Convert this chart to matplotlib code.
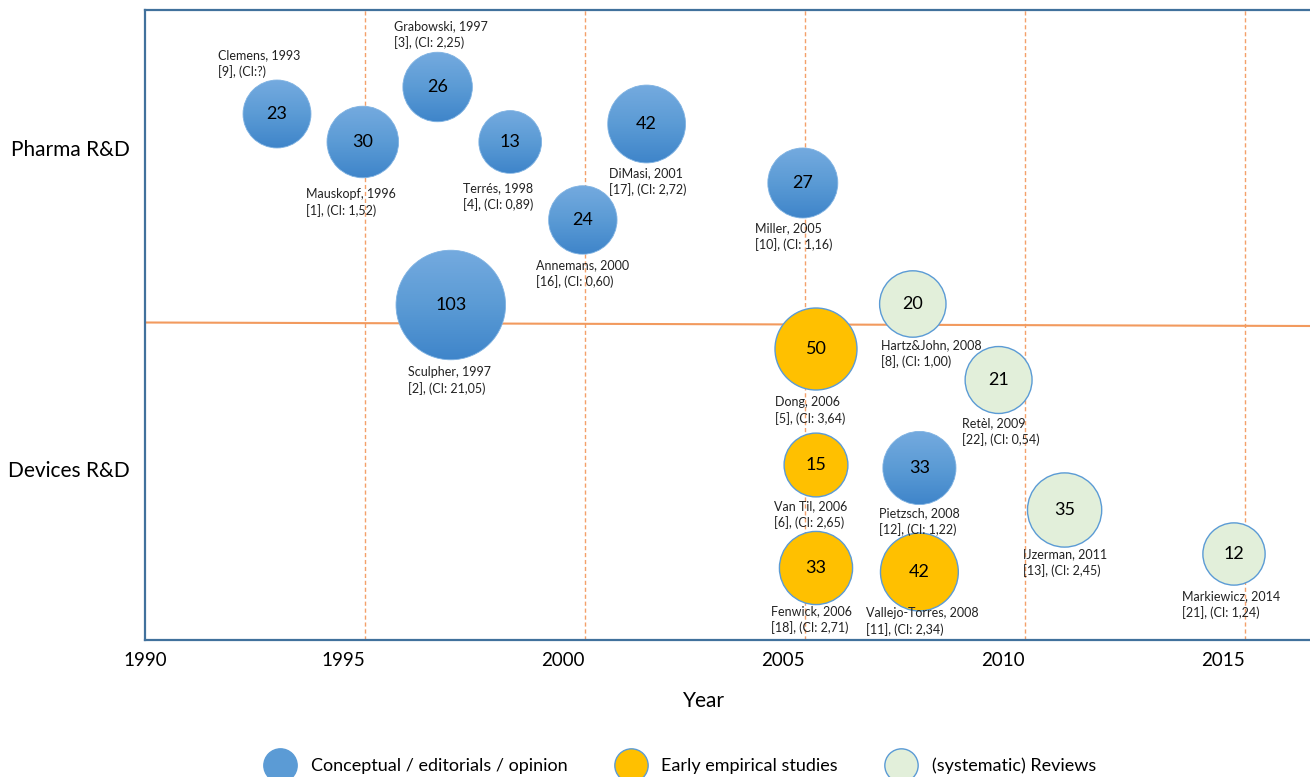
# bubble timeline of HTA / early health economics studies
# pharma vs devices R&D, bubble number = count, colour = study type

import numpy as np
import matplotlib.pyplot as plt
import matplotlib.transforms as mtransforms
from matplotlib.patches import Ellipse
from matplotlib.lines import Line2D
from matplotlib.colors import LinearSegmentedColormap

plt.rcParams['font.family'] = ['Lato', 'DejaVu Sans']

authors = ['Clemens', 'Mauskopf', 'Grabowski', 'Terrés', 'Annemans', 'Sculpher',
           'DiMasi', 'Miller', 'Hartz&John', 'Dong', 'Retèl', 'Van Til',
           'Pietzsch', 'IJzerman', 'Markiewicz', 'Fenwick', 'Vallejo-Torres']
years = [1993, 1996, 1997, 1998, 2000, 1997, 2001, 2005, 2008, 2006, 2009, 2006,
         2008, 2011, 2014, 2006, 2008]
refs = [9, 1, 3, 4, 16, 2, 17, 10, 8, 5, 22, 6, 12, 13, 21, 18, 11]
ci = ['?', '1,52', '2,25', '0,89', '0,60', '21,05', '2,72', '1,16', '1,00', '3,64',
      '0,54', '2,65', '1,22', '2,45', '1,24', '2,71', '2,34']
values = [23, 30, 26, 13, 24, 103, 42, 27, 20, 50, 21, 15, 33, 35, 12, 33, 42]
# c = conceptual, e = early empirical, r = reviews
kinds = ['c', 'c', 'c', 'c', 'c', 'c', 'c', 'c', 'r', 'e', 'r', 'e', 'c', 'r', 'r', 'e', 'e']
# where the bubbles sit on the timeline / row scale
x_pos = [1993.0, 1994.95, 1996.65, 1998.3, 1999.95, 1996.95, 2001.4, 2004.95, 2007.45,
         2005.25, 2009.4, 2005.25, 2007.6, 2010.9, 2014.75, 2005.25, 2007.6]
y_pos = [52.6, 49.8, 55.3, 49.8, 42.0, 33.5, 51.6, 45.7, 33.6, 29.1, 26.0, 17.5,
         17.2, 13.0, 8.6, 7.2, 6.8]

rows = ['Pharma R&D', 'Devices R&D']
row_y = [49.2, 17.1]
xticks = [1990, 1995, 2000, 2005, 2010, 2015]
kind_names = {'c': 'Conceptual / editorials / opinion',
              'e': 'Early empirical studies',
              'r': '(systematic) Reviews'}

# label placement (pixels from bubble centre to top-left of the text)
label_off = [(-59, -65), (-57, 46), (-44, -67), (-47, 40), (-47, 39), (-43, 61),
             (-38, 43), (-48, 39), (-32, 35), (-41, 47), (-37, 37), (-42, 35),
             (-40, 39), (-42, 38), (-52, 36), (-45, 37), (-53, 35)]

fig = plt.figure(figsize=(13.1, 7.77), dpi=100)
ax = fig.add_axes([145/1310, 137/777, 1165/1310, 630/777])
x0, x1 = 1990, 1990 + 1165/44.0
y0, y1 = 0, 63
px_x = 1165 / (x1 - x0)
px_y = 630 / (y1 - y0)

blue_cmap = LinearSegmentedColormap.from_list('bub', ['#74aadf', '#5b9bd5', '#3f85ca'])
grad = np.linspace(0, 1, 64).reshape(-1, 1)
fills = {'e': '#ffc000', 'r': '#e2efda'}

for i in range(len(authors)):
    x, y, v, k = x_pos[i], y_pos[i], values[i], kinds[i]
    r = 28 + 0.26 * v   # radius in px
    w, h = 2 * r / px_x, 2 * r / px_y
    if k == 'c':
        e = Ellipse((x, y), w, h, fc='none', ec='#7fb2e2', lw=0.6, zorder=3)
        ax.add_patch(e)
        im = ax.imshow(grad, cmap=blue_cmap, extent=[x - w/2, x + w/2, y - h/2, y + h/2],
                       origin='upper', aspect='auto', zorder=2.9, interpolation='bilinear')
        im.set_clip_path(e)
    else:
        e = Ellipse((x, y), w, h, fc=fills[k], ec='#5b9bd5', lw=1.0, zorder=3)
        ax.add_patch(e)
    ax.text(x, y, str(v), ha='center', va='center', fontsize=13, color='black', zorder=4)
    cit = 'CI:?' if ci[i] == '?' else 'CI: ' + ci[i]
    lbl = '%s, %d\n[%d], (%s)' % (authors[i], years[i], refs[i], cit)
    dx, dy = label_off[i]
    ax.annotate(lbl, (x, y), xytext=(dx, -dy), textcoords='offset pixels',
                ha='left', va='top', fontsize=9, color='#222222', linespacing=1.4, zorder=5)

# year grid + divider between rows
for yr in xticks[1:]:
    ax.axvline(yr, color='#f4a06a', ls=(0, (3, 2)), lw=1, zorder=1)
ax.plot([x0, x1], [31.75, 31.4], color='#f29a5e', lw=1.5, zorder=1)

ax.set_xlim(x0, x1)
ax.set_ylim(y0, y1)
ax.set_xticks(xticks)
ax.set_xticklabels([str(t) for t in xticks], fontsize=13.5)
ax.set_yticks(row_y)
ax.set_yticklabels(rows, fontsize=15)
ax.tick_params(axis='x', length=0, pad=9)
ax.tick_params(axis='y', length=0, pad=11)
shift = mtransforms.ScaledTranslation(-22/100, 0, fig.dpi_scale_trans)
for t in ax.get_xticklabels()[1:]:
    t.set_transform(t.get_transform() + shift)

for s in ['left', 'top', 'bottom']:
    ax.spines[s].set_color('#41719c')
    ax.spines[s].set_linewidth(1.6)
ax.spines['right'].set_visible(False)

ax.set_xlabel('Year', fontsize=15)
ax.xaxis.set_label_coords((704 - 145) / 1165, -(691 - 640) / 630)

handles = [Line2D([], [], ls='', marker='o', markersize=24, mfc='#5b9bd5', mec='#5b9bd5'),
           Line2D([], [], ls='', marker='o', markersize=24, mfc='#ffc000', mec='#5b9bd5'),
           Line2D([], [], ls='', marker='o', markersize=24, mfc='#e2efda', mec='#5b9bd5')]
fig.legend(handles, [kind_names[k] for k in ['c', 'e', 'r']], loc='center', ncol=3,
           bbox_to_anchor=(680/1310, 1 - 766/777), frameon=False, fontsize=13,
           handlelength=1.8, handletextpad=0.8, columnspacing=2.6)

fig.savefig('out.png', dpi=100)
